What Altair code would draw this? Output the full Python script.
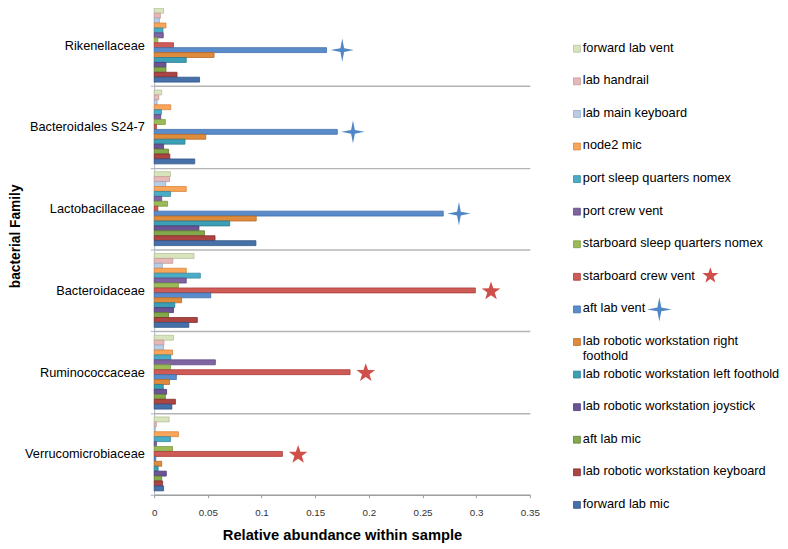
import math
import altair as alt
import pandas as pd

families = ["Rikenellaceae", "Bacteroidales S24-7", "Lactobacillaceae",
            "Bacteroidaceae", "Ruminococcaceae", "Verrucomicrobiaceae"]

series = ["forward lab vent", "lab handrail", "lab main keyboard", "node2 mic",
          "port sleep quarters nomex", "port crew vent",
          "starboard sleep quarters nomex", "starboard crew vent", "aft lab vent",
          "lab robotic workstation right foothold",
          "lab robotic workstation left foothold",
          "lab robotic workstation joystick", "aft lab mic",
          "lab robotic workstation keyboard", "forward lab mic"]

legend_labels = [s if s != "lab robotic workstation right foothold"
                 else "lab robotic workstation right\nfoothold" for s in series]

fills = ["#d7e4bd", "#e6b9b8", "#b9cde5", "#f9a55a", "#4bacc6", "#8064a2",
         "#9bbb59", "#cf5b57", "#5a8ccb", "#de8b3e", "#3d9fb5", "#6a5494",
         "#84a84c", "#ac4441", "#4671a8"]
strokes = ["#b3c397", "#c99896", "#93a9c6", "#d9843a", "#3489a0", "#5e4781",
           "#7b9a3e", "#a83c39", "#3d6ea8", "#b86a22", "#2a7c90", "#4d3a73",
           "#627f30", "#842d2b", "#2f5288"]

rikenellaceae = [0.0088, 0.0058, 0.0049, 0.0110, 0.0082, 0.0085, 0.0034, 0.0180,
                 0.1606, 0.0558, 0.0299, 0.0110, 0.0110, 0.0213, 0.0423]
bacteroidales_s24_7 = [0.0070, 0.0043, 0.0027, 0.0155, 0.0067, 0.0061, 0.0104, 0.0021,
                       0.1706, 0.0481, 0.0287, 0.0088, 0.0134, 0.0146, 0.0378]
lactobacillaceae = [0.0152, 0.0143, 0.0107, 0.0299, 0.0152, 0.0070, 0.0125, 0.0034,
                    0.2693, 0.0951, 0.0704, 0.0417, 0.0469, 0.0567, 0.0948]
bacteroidaceae = [0.0372, 0.0174, 0.0076, 0.0299, 0.0430, 0.0299, 0.0226, 0.2992,
                  0.0527, 0.0256, 0.0192, 0.0180, 0.0134, 0.0402, 0.0323]
ruminococcaceae = [0.0180, 0.0091, 0.0088, 0.0171, 0.0155, 0.0570, 0.0152, 0.1825,
                   0.0207, 0.0143, 0.0085, 0.0116, 0.0104, 0.0198, 0.0165]
verrucomicrobiaceae = [0.0140, 0.0020, 0.0010, 0.0226, 0.0152, 0.0021, 0.0171, 0.1195,
                       0.0015, 0.0070, 0.0037, 0.0113, 0.0070, 0.0079, 0.0088]

star_series = ["aft lab vent", "aft lab vent", "aft lab vent",
               "starboard crew vent", "starboard crew vent", "starboard crew vent"]

x_ticks = [0, 0.05, 0.1, 0.15, 0.2, 0.25, 0.3, 0.35]

all_values = [rikenellaceae, bacteroidales_s24_7, lactobacillaceae,
              bacteroidaceae, ruminococcaceae, verrucomicrobiaceae]
rows = []
for fam, vals in zip(families, all_values):
    for s, v in zip(series, vals):
        rows.append({"family": fam, "series": s, "value": v})
df = pd.DataFrame(rows)

star_rows = df[[s == star_series[families.index(f)] for f, s in zip(df.family, df.series)]]
blue_df = star_rows[star_rows.series == "aft lab vent"]
red_df = star_rows[star_rows.series == "starboard crew vent"]

# symbol shapes
star4 = "M0,-1L0.16,-0.16L1,0L0.16,0.16L0,1L-0.16,0.16L-1,0L-0.16,-0.16Z"
pts = []
for k in range(10):
    r = 1.0 if k % 2 == 0 else 0.4
    a = math.radians(-90 + 36 * k)
    pts.append(f"{r * math.cos(a):.3f},{r * math.sin(a) + 0.1:.3f}")
star5 = "M" + "L".join(pts) + "Z"

BLUE_STAR = "#4f86c6"
RED_STAR = "#cf4f4b"
GRID = "#b4b4b4"

y_enc = alt.Y("family:N", scale=alt.Scale(domain=families, paddingInner=0, paddingOuter=0),
              axis=alt.Axis(tickBand="extent", grid=True, gridColor=GRID, gridWidth=1.5,
                            domainColor="#a9b4c2", tickColor=GRID, tickSize=4,
                            labelFontSize=13, labelColor="#000", labelPadding=6,
                            title="bacterial Family", titleFontSize=14,
                            titleFontWeight="bold", titleColor="#000",
                            titlePadding=2, titleY=236),
              title="bacterial Family")
yoff_enc = alt.YOffset("series:N", scale=alt.Scale(domain=series, paddingInner=0, paddingOuter=0.8))
x_enc = alt.X("value:Q", scale=alt.Scale(domain=[0, 0.35], nice=False, padding=0),
              axis=alt.Axis(values=x_ticks, format="~g", grid=False, labelFontSize=10,
                            labelColor="#333", tickSize=3, tickColor="#999",
                            domainColor="#999", labelPadding=10, titleFontSize=15,
                            titleFontWeight="bold", titleColor="#000", titlePadding=11,
                            labelFlush=False),
              title="Relative abundance within sample")

bars = alt.Chart(df).mark_bar(strokeWidth=0.8, opacity=1).encode(
    x=x_enc, y=y_enc, yOffset=yoff_enc,
    color=alt.Color("series:N", scale=alt.Scale(domain=series, range=fills), legend=None),
    stroke=alt.Stroke("series:N", scale=alt.Scale(domain=series, range=strokes), legend=None),
)

star_b = alt.Chart(blue_df).mark_point(shape=star4, filled=True, size=560, color=BLUE_STAR,
                                       opacity=1, xOffset=16).encode(
    x="value:Q", y=alt.Y("family:N"), yOffset=alt.YOffset("series:N"))
star_r = alt.Chart(red_df).mark_point(shape=star5, filled=True, size=400, color=RED_STAR,
                                      opacity=1, xOffset=16).encode(
    x="value:Q", y=alt.Y("family:N"), yOffset=alt.YOffset("series:N"))

main = alt.layer(bars, star_b, star_r).properties(width=383, height=500)

leg_df = pd.DataFrame({"series": series, "idx": list(range(len(series))), "label": legend_labels})
leg_y = alt.Y("idx:Q", scale=alt.Scale(domain=[-1.364, 13.69], reverse=True, nice=False,
                                       zero=False, padding=0),
              axis=None)
leg_base = alt.Chart(leg_df)
squares = leg_base.mark_square(size=49, opacity=1, strokeWidth=0.8).encode(
    x=alt.value(22), y=leg_y,
    color=alt.Color("series:N", scale=alt.Scale(domain=series, range=fills), legend=None),
    stroke=alt.Stroke("series:N", scale=alt.Scale(domain=series, range=strokes), legend=None),
)
texts = leg_base.mark_text(align="left", baseline="top", dy=-7, fontSize=13,
                           lineBreak="\n", lineHeight=15, color="#000").encode(
    x=alt.value(28), y=leg_y, text="label:N")
lstar_r = alt.Chart(leg_df[leg_df.series == "starboard crew vent"]).mark_point(
    shape=star5, filled=True, size=300, color=RED_STAR, opacity=1, yOffset=-2).encode(
    x=alt.value(158), y=leg_y)
lstar_b = alt.Chart(leg_df[leg_df.series == "aft lab vent"]).mark_point(
    shape=star4, filled=True, size=620, color=BLUE_STAR, opacity=1).encode(
    x=alt.value(106), y=leg_y)

legend = alt.layer(squares, texts, lstar_r, lstar_b).properties(width=215, height=500)

chart = alt.hconcat(main, legend, spacing=16).properties(
    padding={"left": 0, "top": -15, "right": 0, "bottom": 0}
).resolve_scale(color="independent", stroke="independent").configure(
    font="Liberation Sans").configure_view(stroke=None)

chart.save("out.html", embed_options={"renderer": "svg", "actions": False})
